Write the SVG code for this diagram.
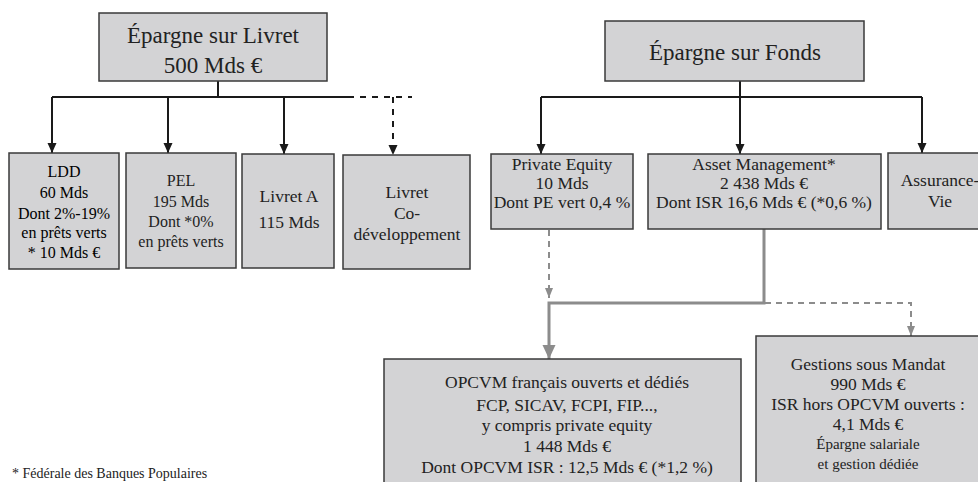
<svg xmlns="http://www.w3.org/2000/svg" width="978" height="482" viewBox="0 0 978 482">
<style>
.box{fill:#d3d3d5;stroke:#3a3a3a;stroke-width:1.5}
text{font-family:"Liberation Serif","Times New Roman",serif;fill:#222;text-anchor:middle}
.t{font-size:23px}
.m{font-size:17.5px}
.s{font-size:16px}
.x{font-size:15px}
.k{fill:none;stroke:#1a1a1a;stroke-width:2}
.kd{fill:none;stroke:#1a1a1a;stroke-width:2;stroke-dasharray:6 6}
.g{fill:none;stroke:#8c8c8c;stroke-width:3}
.gd{fill:none;stroke:#8c8c8c;stroke-width:2;stroke-dasharray:6 5}
</style>
<defs>
<marker id="ak" markerUnits="userSpaceOnUse" markerWidth="12" markerHeight="12" viewBox="0 0 12 12" refX="10" refY="6" orient="auto"><path d="M0 1.5 L10 6 L0 10.5 Z" fill="#1a1a1a"/></marker>
<marker id="ag" markerUnits="userSpaceOnUse" markerWidth="16" markerHeight="16" viewBox="0 0 16 16" refX="14" refY="8" orient="auto"><path d="M0 1.5 L14 8 L0 14.5 Z" fill="#8c8c8c"/></marker>
<marker id="ags" markerUnits="userSpaceOnUse" markerWidth="12" markerHeight="12" viewBox="0 0 12 12" refX="10" refY="6" orient="auto"><path d="M0 2 L10 6 L0 10 Z" fill="#8c8c8c"/></marker>
</defs>

<g id="connectors">
<path class="k" d="M218 81 V97 M52 97 H348"/>
<path class="kd" d="M348 97 H412"/>
<path class="k" d="M52 97 V153" marker-end="url(#ak)"/>
<path class="k" d="M168 97 V153" marker-end="url(#ak)"/>
<path class="k" d="M284 97 V154" marker-end="url(#ak)"/>
<path class="kd" d="M393 97 V155" marker-end="url(#ak)"/>
<path class="k" d="M740 81 V97 M541 97 H922"/>
<path class="k" d="M541 97 V154" marker-end="url(#ak)"/>
<path class="k" d="M740 97 V154" marker-end="url(#ak)"/>
<path class="k" d="M922 97 V153" marker-end="url(#ak)"/>
<path class="g" d="M764 229 V303 H549 V359" marker-end="url(#ag)"/>
<path class="gd" d="M549 230 V298" marker-end="url(#ags)"/>
<path class="gd" d="M765 303 H911 V336" marker-end="url(#ags)"/>
</g>

<g id="livret">
<rect class="box" x="99" y="13" width="228" height="68"/>
<text class="t" x="213" y="43">Épargne sur Livret</text>
<text class="t" x="213" y="73">500 Mds €</text>
</g>
<g id="ldd">
<rect class="box" x="9" y="153" width="110" height="116"/>
<text class="s" x="64" y="177" style="fill:#000">LDD</text>
<text class="s" x="64" y="198" style="fill:#000">60 Mds</text>
<text class="s" x="64" y="219" style="fill:#000">Dont 2%-19%</text>
<text class="s" x="64" y="238" style="fill:#000">en prêts verts</text>
<text class="s" x="64" y="258" style="fill:#000">* 10 Mds €</text>
</g>
<g id="pel">
<rect class="box" x="126" y="153" width="110" height="115"/>
<text class="s" x="181" y="186">PEL</text>
<text class="s" x="181" y="207">195 Mds</text>
<text class="s" x="181" y="227">Dont *0%</text>
<text class="s" x="181" y="247">en prêts verts</text>
</g>
<g id="livretA">
<rect class="box" x="242" y="154" width="92" height="114"/>
<text class="m" x="289" y="202">Livret A</text>
<text class="m" x="289" y="228">115 Mds</text>
</g>
<g id="codev">
<rect class="box" x="343" y="155" width="127" height="114"/>
<text class="m" x="407" y="198">Livret</text>
<text class="m" x="407" y="219">Co-</text>
<text class="m" x="407" y="240">développement</text>
</g>

<g id="fonds">
<rect class="box" x="605" y="21" width="259" height="60"/>
<text class="t" x="735" y="60">Épargne sur Fonds</text>
</g>
<g id="pe">
<rect class="box" x="491" y="154" width="142" height="75"/>
<text class="m" x="562" y="170">Private Equity</text>
<text class="m" x="562" y="189">10 Mds</text>
<text class="m" x="562" y="208">Dont PE vert 0,4 %</text>
</g>
<g id="am">
<rect class="box" x="648" y="154" width="233" height="75"/>
<text class="m" x="764" y="170">Asset Management*</text>
<text class="m" x="764" y="189">2 438 Mds €</text>
<text class="m" x="764" y="208">Dont ISR 16,6 Mds € (*0,6 %)</text>
</g>
<g id="av">
<rect class="box" x="888" y="153" width="110" height="76"/>
<text class="m" x="940" y="186">Assurance-</text>
<text class="m" x="940" y="207">Vie</text>
</g>
<g id="opcvm">
<rect class="box" x="384" y="359" width="357" height="140"/>
<text class="m" x="567" y="388">OPCVM français ouverts et dédiés</text>
<text class="m" x="567" y="411">FCP, SICAV, FCPI, FIP...,</text>
<text class="m" x="567" y="431">y compris private equity</text>
<text class="m" x="567" y="452">1 448 Mds €</text>
<text class="m" x="567" y="473">Dont OPCVM ISR : 12,5 Mds € (*1,2 %)</text>
</g>
<g id="gsm">
<rect class="box" x="756" y="336" width="240" height="160"/>
<text class="m" x="868" y="370">Gestions sous Mandat</text>
<text class="m" x="868" y="390">990 Mds €</text>
<text class="m" x="868" y="410">ISR hors OPCVM ouverts :</text>
<text class="m" x="868" y="430">4,1 Mds €</text>
<text class="x" x="868" y="449">Épargne salariale</text>
<text class="x" x="868" y="469">et gestion dédiée</text>
</g>
<text x="12" y="478" style="font-size:14px;text-anchor:start">* Fédérale des Banques Populaires</text>
</svg>
